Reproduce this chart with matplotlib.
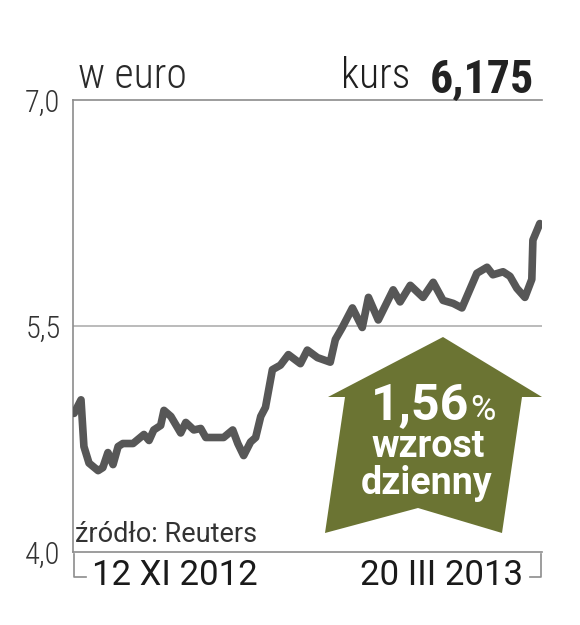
import matplotlib
matplotlib.use('Agg')
import matplotlib.pyplot as plt
from matplotlib.patches import Polygon

# kurs w euro, 12 XI 2012 - 20 III 2013 (dni kalendarzowe od poczatku)
dzien = [0, 1.9, 2.7, 4.1, 6.6, 7.9, 9.3, 10.7, 12.1, 13.4, 16.2, 19.2, 20.6,
         21.9, 23.8, 24.7, 26.6, 29.3, 30.7, 32.9, 34.8, 36.2, 39.5, 41.1,
         43.6, 45.0, 46.6, 48.5, 49.9, 51.3, 52.6, 54.5, 56.7, 58.9, 62.2,
         64.1, 66.9, 70.4, 71.8, 73.7, 76.5, 79.2, 80.9, 83.6, 87.7, 89.6,
         92.4, 95.9, 98.7, 101.4, 104.2, 106.6, 110.7, 113.5, 115.1, 117.9,
         119.8, 121.7, 123.9, 125.8, 126.1, 128.0]
kurs = [4.92, 5.01, 4.70, 4.59, 4.54, 4.56, 4.66, 4.58, 4.70, 4.72, 4.72,
        4.78, 4.74, 4.81, 4.84, 4.94, 4.90, 4.79, 4.86, 4.81, 4.82, 4.76,
        4.76, 4.76, 4.81, 4.72, 4.64, 4.73, 4.76, 4.90, 4.96, 5.21, 5.24,
        5.31, 5.25, 5.34, 5.29, 5.26, 5.41, 5.49, 5.62, 5.49, 5.69, 5.54,
        5.74, 5.66, 5.77, 5.69, 5.79, 5.67, 5.65, 5.62, 5.85, 5.89, 5.84,
        5.86, 5.83, 5.75, 5.69, 5.81, 6.07, 6.18]
yticks = [7.0, 5.5, 4.0]
ylabels = ['7,0', '5,5', '4,0']
daty = ['12 XI 2012', '20 III 2013']

W, H = 580, 625
def fx(x): return x / W
def fy(y): return 1 - y / H

plt.rcParams['font.family'] = ['Roboto', 'DejaVu Sans']
COND = ['Roboto Condensed', 'DejaVu Sans']

fig = plt.figure(figsize=(5.8, 6.25), dpi=100)
ax = fig.add_axes([fx(73), fy(552), fx(542) - fx(73), fy(100) - fy(552)])

ax.plot(dzien, kurs, color='#575757', lw=5.5, solid_joinstyle='round',
        solid_capstyle='round', zorder=3)
ax.set_xlim(-0.3, 128.6)
ax.set_ylim(4.0, 7.0)
ax.axhline(5.5, color='#b5b5b5', lw=1.3, zorder=1)

ax.spines['right'].set_visible(False)
for s in ['left', 'top', 'bottom']:
    ax.spines[s].set_color('#8c8c8c')
    ax.spines[s].set_linewidth(1.2)

ax.set_xticks([])
ax.set_yticks(yticks)
ax.set_yticklabels(ylabels, fontsize=22, color='#333333', fontweight='light', family=COND)
ax.tick_params(axis='y', length=0, pad=9)

# nagłówek
fig.text(fx(78), fy(88), 'w euro', fontsize=30, fontweight='light', color='#2a2a2a',
         ha='left', va='baseline', family=COND)
fig.text(fx(341), fy(88), 'kurs', fontsize=30, fontweight='light', color='#1f1f1f',
         ha='left', va='baseline', family=COND)
fig.text(fx(534), fy(92), '6,175', fontsize=33, color='#222222', ha='right',
         va='baseline', fontweight='bold', family=COND)

fig.text(fx(75), fy(542), 'źródło: Reuters', fontsize=19.5, color='#333333',
         ha='left', va='baseline')

# daty pod osią
fig.text(fx(92), fy(585), daty[0], fontsize=25, color='#1a1a1a', ha='left', va='baseline')
fig.text(fx(523), fy(585), daty[1], fontsize=25, color='#1a1a1a', ha='right', va='baseline')
fig.add_artist(plt.Line2D([fx(74), fx(74), fx(86)], [fy(554), fy(577), fy(577)],
                          color='#8c8c8c', lw=1.2))
fig.add_artist(plt.Line2D([fx(541), fx(541), fx(530)], [fy(554), fy(577), fy(577)],
                          color='#8c8c8c', lw=1.2))

# strzałka
pts = [(443, 337), (542, 397), (522, 397), (502, 533), (418, 508),
       (325, 533), (345, 397), (328, 397)]
arrow = Polygon([(fx(x), fy(y)) for x, y in pts], closed=True,
                facecolor='#6b7433', edgecolor='none', transform=fig.transFigure)
fig.add_artist(arrow)
fig.text(fx(469), fy(420), '1,56', fontsize=36, color='white', fontweight='bold',
         ha='right', va='baseline')
fig.text(fx(470), fy(420), '%', fontsize=25, color='white', ha='left', va='baseline')
fig.text(fx(428), fy(457), 'wzrost', fontsize=27, color='white', fontweight='bold',
         ha='center', va='baseline')
fig.text(fx(427), fy(494), 'dzienny', fontsize=27, color='white', fontweight='bold',
         ha='center', va='baseline')

fig.savefig('out.png', dpi=100)
